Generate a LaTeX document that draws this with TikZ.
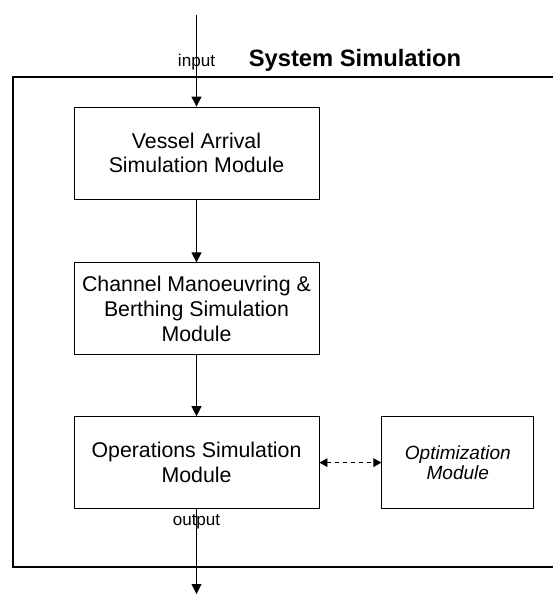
\documentclass[tikz,border=0pt]{standalone}
\usepackage{fontspec}
\setmainfont{Liberation Sans}
\usepackage{tikz}
\usetikzlibrary{arrows.meta,positioning}

\begin{document}
\begin{tikzpicture}[x=0.75pt,y=-0.75pt,>={Triangle[length=7.5pt,width=7.5pt]},
  line width=0.6pt,node distance=46pt]

% Define block styles
\tikzstyle{block} = [rectangle, draw, align=center, minimum width=183.75pt,
    minimum height=69pt, inner sep=0pt, font=\fontsize{16}{18.5}\selectfont]
\tikzstyle{opt} = [block, minimum width=114pt, font=\fontsize{14.3}{15.5}\selectfont\itshape]
\tikzstyle{line} = [->]
\tikzstyle{io} = [font=\fontsize{12.8}{14}\selectfont, inner sep=0pt]
\tikzstyle{frame} = [line width=1.2pt]

\useasboundingbox (0,0) rectangle (553,594);

\node[block]	(vessel)	at (196.5,153)	{Vessel Arrival\\Simulation Module};
\node[block]	(channel)	[below=47.25pt of vessel]	{Channel Manoeuvring \&\\Berthing Simulation\\Module};
\node[block]	(ops)	[below=45.75pt of channel]	{Operations Simulation\\Module};
\node[opt]	(optim)	[right=46.5pt of ops]	{Optimization\\Module};

\coordinate (in) at (196.5,15);
\coordinate (out) at (196.5,594);
\node[io]	(inlabel)	at (196.5,62)	{input};
\node[io]	(outlabel)	at (196.5,522)	{output};
\node[font=\fontsize{17.8}{20}\selectfont\bfseries] (title) at (355,60) {System Simulation};

% outer frame, right side runs off the page
\draw[frame] (553,77) -- (13,77) -- (13,567) -- (553,567);

\path[line]
	(in)	edge	(vessel)
	(vessel)	edge	(channel)
	(channel)	edge	(ops)
	(ops)	edge	(out);
\draw[<->, dashed, >={Triangle[length=6pt,width=6.5pt]}] (ops) -- (optim);

\end{tikzpicture}
\end{document}
